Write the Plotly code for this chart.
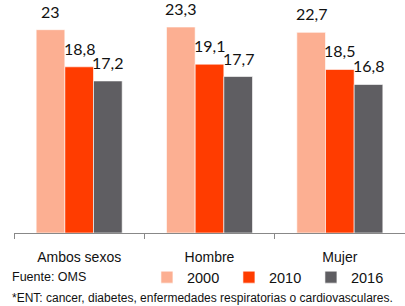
import plotly.graph_objects as go

categories = ["Ambos sexos", "Hombre", "Mujer"]
years = ["2000", "2010", "2016"]
values_2000 = [23.0, 23.3, 22.7]
values_2010 = [18.8, 19.1, 18.5]
values_2016 = [17.2, 17.7, 16.8]
series = [values_2000, values_2010, values_2016]
colors = ["#FCAF92", "#FF3C00", "#5F5E62"]

SANS = "Liberation Sans, Arial, sans-serif"

fig = go.Figure()
for name, vals, col in zip(years, series, colors):
    fig.add_trace(go.Bar(
        x=categories, y=vals, name=name,
        marker=dict(color=col, line=dict(color="rgba(255,255,255,0.6)", width=1)),
    ))

bar_px = 28.7
for j, vals in enumerate(series):
    for c, v in zip(categories, vals):
        fig.add_annotation(
            x=c, y=v, text=f"{v:g}".replace(".", ","), showarrow=False,
            xshift=(j - 1) * bar_px, yshift=7, yanchor="bottom",
            font=dict(family="Lato, Open Sans, sans-serif", size=16, color="#111"),
        )

fig.add_annotation(x=-0.0102, y=-0.2, xref="paper", yref="paper", xanchor="left", yanchor="middle",
                   text="Fuente: OMS", showarrow=False, font=dict(family=SANS, size=12.5, color="#111"))
fig.add_annotation(x=-0.0102, y=-0.294, xref="paper", yref="paper", xanchor="left", yanchor="middle",
                   text="*ENT: cancer, diabetes, enfermedades respiratorias o cardiovasculares.",
                   showarrow=False, font=dict(family=SANS, size=12, color="#111"))

fig.update_layout(
    width=405, height=306,
    margin=dict(l=14, r=0, t=12, b=73),
    paper_bgcolor="white", plot_bgcolor="white",
    barmode="group", bargap=0.34, bargroupgap=0,
    showlegend=True,
    legend=dict(orientation="h", x=0.34, y=-0.2, xanchor="left", yanchor="middle",
                font=dict(family=SANS, size=14.5, color="#111"),
                entrywidth=37, itemwidth=30, bgcolor="rgba(0,0,0,0)"),
    xaxis=dict(showline=True, linecolor="#888", linewidth=1, ticks="outside", tickson="boundaries",
               ticklen=5, tickcolor="#888", range=[-0.5, 2.5], ticklabelstandoff=11,
               tickfont=dict(family=SANS, size=14, color="#111"), showgrid=False),
    yaxis=dict(range=[0, 25], visible=False, showgrid=False),
)

fig.write_html("out.html", config={"displayModeBar": False},
               post_script="document.body.style.margin='0';")
